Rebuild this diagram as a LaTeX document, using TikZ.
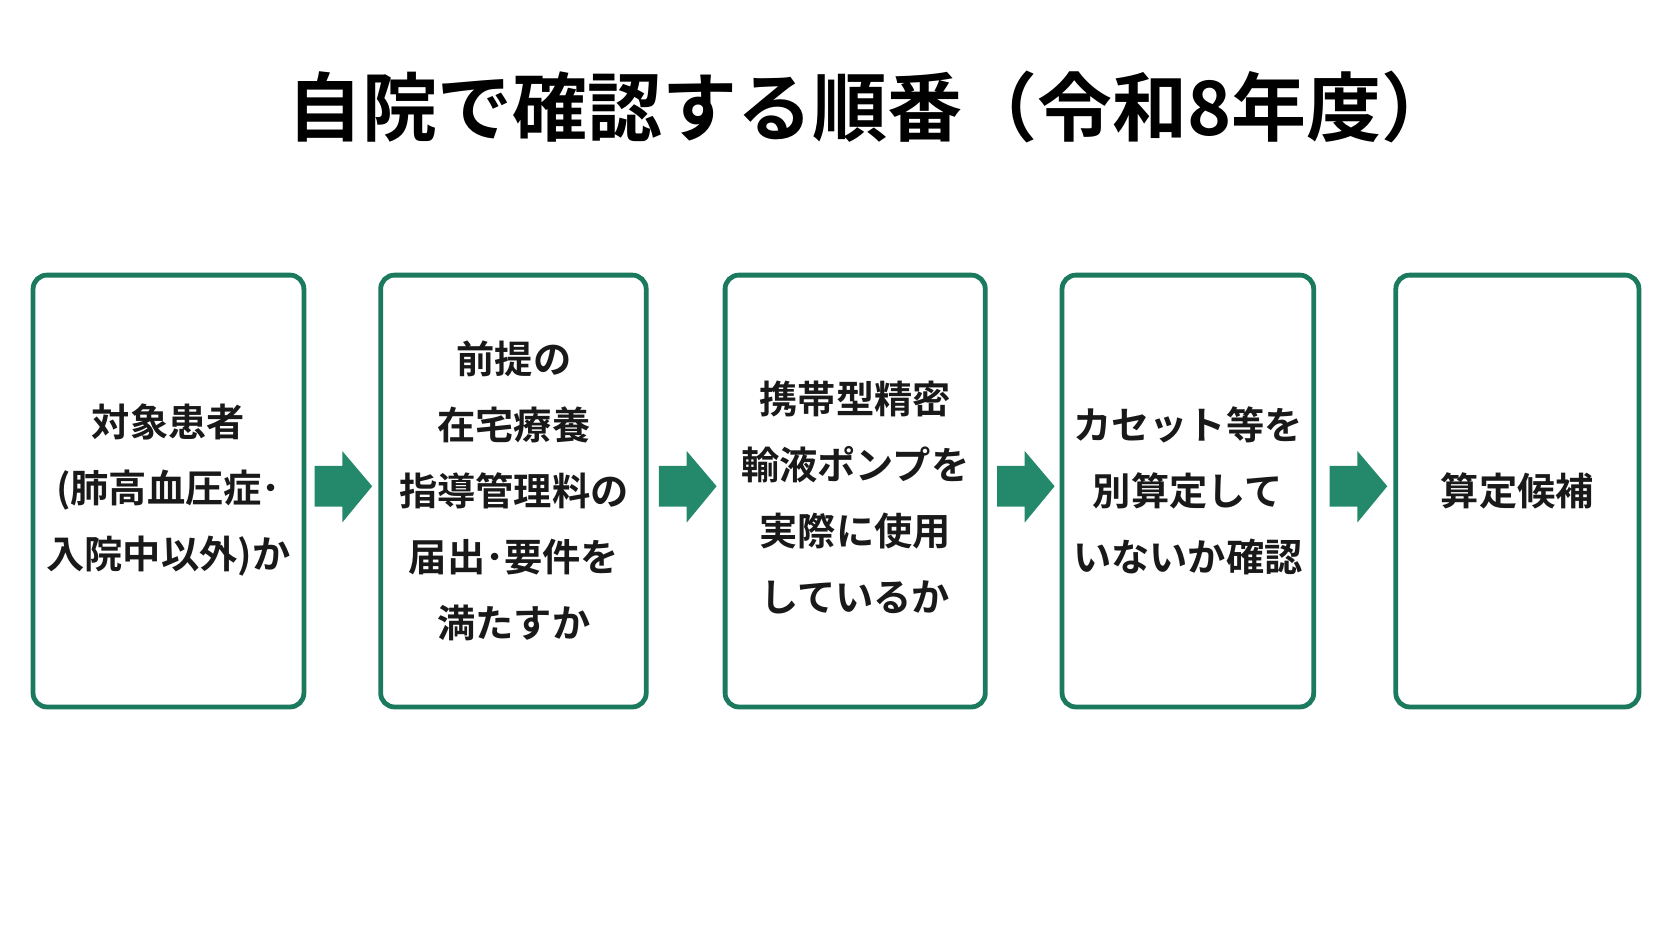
\documentclass[tikz,border=0pt]{standalone}
\usepackage{fontspec}
\newfontfamily\cjk{Noto Sans CJK JP}[BoldFont={Noto Sans CJK JP Bold}]
\definecolor{grn}{HTML}{1B7A5E}
\definecolor{arr}{HTML}{24896B}
\begin{document}
\begin{tikzpicture}[x=0.01cm,y=-0.01cm,
  box/.style={draw=grn,line width=0.45mm,rounded corners=1.3mm,fill=white,inner sep=0pt},
  txt/.style={font=\cjk\bfseries\fontsize{10.2}{17.6}\selectfont,align=center,text=black!90},
  arw/.style={fill=arr,draw=none}]
\useasboundingbox[fill=white] (0,0) rectangle (1568,882);
\node[font=\cjk\bfseries\fontsize{20}{24}\selectfont,inner sep=0pt] (title) at (818,100) {自院で確認する順番（令和8年度）};
\draw[box] (31,258) rectangle (285,663) node[midway] (b1) {};
\draw[box] (357,258) rectangle (606,663) node[midway] (b2) {};
\draw[box] (680,258) rectangle (924,663) node[midway] (b3) {};
\draw[box] (996,258) rectangle (1232,663) node[midway] (b4) {};
\draw[box] (1309,258) rectangle (1537,663) node[midway] (b5) {};
\node[txt] (t1) at (158,460) {対象患者\\(肺高血圧症･\\入院中以外)か};
\node[txt] (t2) at (482,460) {前提の\\在宅療養\\指導管理料の\\届出･要件を\\満たすか};
\node[txt] (t3) at (802,467) {携帯型精密\\輸液ポンプを\\実際に使用\\しているか};
\node[txt] (t4) at (1114,460) {カセット等を\\別算定して\\いないか確認};
\node[txt] (t5) at (1423,460) {算定候補};
\foreach \n/\x in {a1/295,a2/618,a3/935,a4/1247}{
  \fill[arw] (\x,437) -- (\x+26,437) -- (\x+26,423) -- (\x+54,456) -- (\x+26,490) -- (\x+26,475) -- (\x,475) -- cycle;
  \coordinate (\n) at (\x+27,456);
}
\end{tikzpicture}
\end{document}
